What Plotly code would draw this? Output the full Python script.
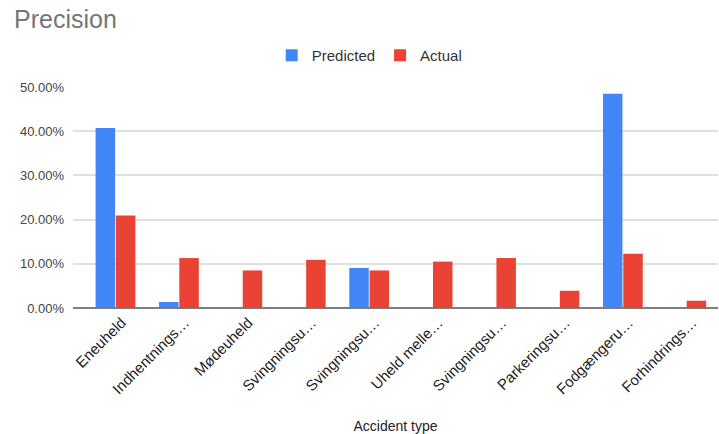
import plotly.graph_objects as go

# Accident categories (labels as shown on the axis, truncated)
categories = [
    "Eneuheld",
    "Indhentnings…",
    "Mødeuheld",
    "Svingningsu…",
    "Svingningsu…",
    "Uheld melle…",
    "Svingningsu…",
    "Parkeringsu…",
    "Fodgængeru…",
    "Forhindrings…",
]

# Share of each accident type (fractions)
predicted = [0.407, 0.0136, 0.0, 0.0, 0.0905, 0.0, 0.0, 0.0, 0.485, 0.0]
actual = [0.209, 0.113, 0.085, 0.109, 0.085, 0.105, 0.113, 0.039, 0.123, 0.0165]

y_ticks = [0.0, 0.1, 0.2, 0.3, 0.4, 0.5]

x_pos = list(range(len(categories)))

fig = go.Figure()
fig.add_trace(go.Bar(x=x_pos, y=predicted, name="Predicted",
                     marker=dict(color="#4285F4", line=dict(width=0))))
fig.add_trace(go.Bar(x=x_pos, y=actual, name="Actual",
                     marker=dict(color="#EA4335", line=dict(width=0))))

font_family = "Liberation Sans, Arial, sans-serif"

fig.update_layout(
    width=719, height=434,
    margin=dict(l=73, r=1, t=87, b=126),
    paper_bgcolor="white", plot_bgcolor="white",
    font=dict(family=font_family, size=13, color="#444444"),
    barmode="group",
    bargap=0.36,
    bargroupgap=0.04,
    title=dict(text="Precision", x=14 / 719, xref="container", xanchor="left",
               y=0.955, yanchor="middle", yref="container",
               font=dict(family=font_family, size=25, color="#757575"),
               pad=dict(l=0, t=0)),
    legend=dict(orientation="h", x=0.46, xanchor="center", xref="paper",
                y=1.143, yanchor="middle", yref="paper",
                font=dict(size=15, color="#333333"),
                traceorder="normal"),
    showlegend=True,
)

fig.update_xaxes(
    tickmode="array", tickvals=x_pos, ticktext=categories,
    tickangle=-45, range=[-0.67, 9.5],
    showgrid=False, showline=False, ticks="",
    zeroline=False,
    ticklabelshift=6, ticklabelstandoff=2,
    title=dict(text="Accident type", standoff=26,
               font=dict(size=14, color="#222222")),
    tickfont=dict(size=15, color="#222222"),
)

fig.update_yaxes(
    range=[0, 0.5], tickvals=y_ticks, tickformat=".2%",
    showgrid=True, gridcolor="#e0e0e0", gridwidth=1.5,
    zeroline=True, zerolinecolor="#7f7f7f", zerolinewidth=1.5,
    showline=False, ticks="", ticklabelstandoff=8,
    tickfont=dict(size=13, color="#444444"),
)

fig.write_html("out.html")
